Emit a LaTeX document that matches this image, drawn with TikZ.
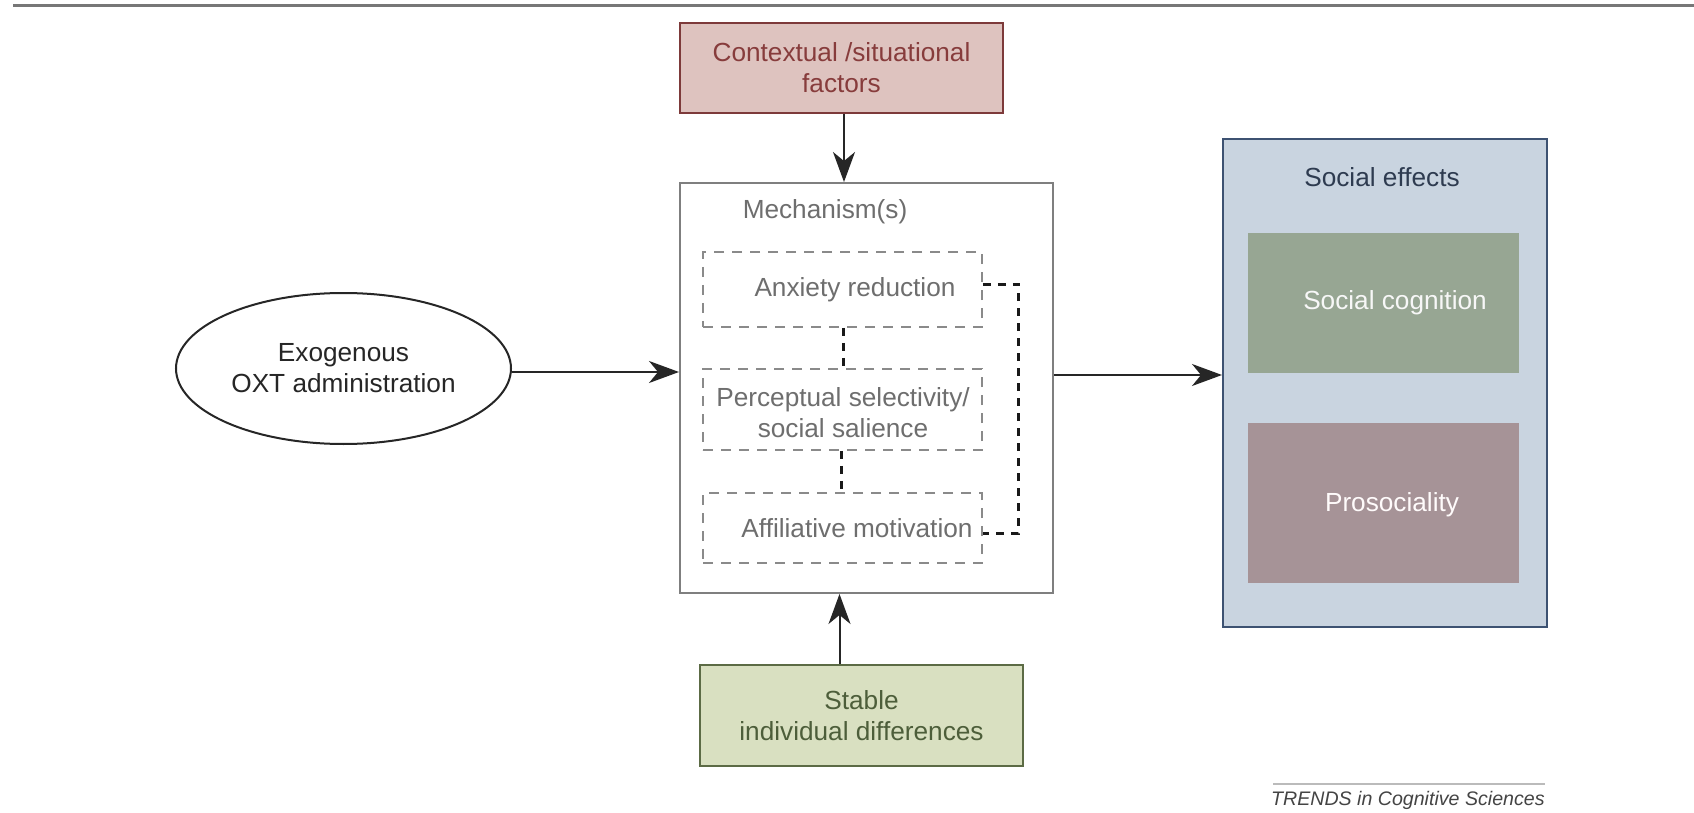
\documentclass[tikz,border=0pt]{standalone}
\usepackage{fontspec}
\setmainfont{Liberation Sans}
\usetikzlibrary{arrows.meta,shapes.geometric,calc}
\definecolor{ctxfill}{HTML}{DEC3BF}
\definecolor{ctxdraw}{HTML}{7D3A3A}
\definecolor{ctxtext}{HTML}{873C3C}
\definecolor{mechdraw}{HTML}{7F7F7F}
\definecolor{mechtext}{HTML}{6E6E6E}
\definecolor{dashdraw}{HTML}{8A8A8A}
\definecolor{socfill}{HTML}{C9D4E0}
\definecolor{socdraw}{HTML}{3D5272}
\definecolor{soctext}{HTML}{2E3B50}
\definecolor{cogfill}{HTML}{97A693}
\definecolor{prosfill}{HTML}{A69397}
\definecolor{stabfill}{HTML}{D9E0C1}
\definecolor{stabdraw}{HTML}{5C6B45}
\definecolor{stabtext}{HTML}{4D5E3A}
\definecolor{toprule}{HTML}{777777}
\definecolor{footrule}{HTML}{BBBBBB}
\definecolor{foottext}{HTML}{444444}
\begin{document}
\begin{tikzpicture}[x=0.5pt,y=-0.5pt,
  every node/.style={font=\fontsize{13.1}{15.5}\selectfont, inner sep=0pt, align=center},
  arr/.style={line width=1pt, draw=black!85, -{Stealth[length=15pt,width=11pt,inset=4.5pt]}},
  dbox/.style={draw=dashdraw, dash pattern=on 5pt off 4pt, line width=0.8pt, minimum width=139.5pt},
  conn/.style={line width=1.5pt, draw=black!90, dash pattern=on 4pt off 3.5pt},
  mtext/.style={text=mechtext},
  solid box/.style={rectangle, line width=1pt}
]
\fill[white] (0,0) rectangle (1694,813);
\useasboundingbox (0,0) rectangle (1694,813);

% top rule
\coordinate (tl) at (13,5.5);
\coordinate (tr) at (1694,5.5);
\draw[toprule, line width=1.1pt] (tl) -- (tr);

% contextual factors
\node[solid box, fill=ctxfill, draw=ctxdraw, text=ctxtext, minimum width=161.5pt, minimum height=45pt]
  (ctx) at (841.5,68) {Contextual /situational\\factors};

% mechanism box
\node[solid box, draw=mechdraw, fill=white, minimum width=186.5pt, minimum height=205pt]
  (mech) at (866.5,388) {};
\node[mtext] (mecht) at (825,212) {Mechanism(s)};

% dashed boxes
\node[dbox, minimum height=37.5pt] (anx) at (842.5,289.5) {};
\node[mtext] (anxt) at (855,290) {Anxiety reduction};
\node[dbox, minimum height=40.5pt] (per) at (842.5,409.5) {};
\node[mtext] (pert) at (843,412.5) {Perceptual selectivity/\\social salience};
\node[dbox, minimum height=35pt] (aff) at (842.5,528) {};
\node[mtext] (afft) at (857,528) {Affiliative motivation};

% dashed connectors
\draw[conn] ([xshift=0.25pt]anx.south) -- ([xshift=0.25pt]per.north);
\draw[conn] ([xshift=-0.75pt]per.south) -- ([xshift=-0.75pt]aff.north);
\draw[conn] ([yshift=2.75pt]anx.east) -- ++(36,0) |- ([yshift=-2.5pt]aff.east);

% social effects
\node[solid box, fill=socfill, draw=socdraw, minimum width=162pt, minimum height=244pt]
  (soc) at (1385,383) {};
\node[text=soctext] (soct) at (1382,177) {Social effects};
\node[rectangle, fill=cogfill, minimum width=135.5pt, minimum height=70pt] (cog) at (1383.5,303) {};
\node[text=white!94!gray] (cogt) at (1395,303) {Social cognition};
\node[rectangle, fill=prosfill, minimum width=135.5pt, minimum height=80pt] (pros) at (1383.5,503) {};
\node[text=white!94!pink] (prost) at (1392,505) {Prosociality};

% ellipse
\node[ellipse, draw=black!85, text=black!85, line width=1pt, fill=white, minimum width=167.5pt, minimum height=75.5pt]
  (oxt) at (343.5,368.5) {Exogenous\\OXT administration};

% stable individual differences
\node[solid box, fill=stabfill, draw=stabdraw, text=stabtext, minimum width=161.5pt, minimum height=50.5pt]
  (stab) at (861.5,715.5) {Stable\\individual differences};

% arrows
\draw[arr] ([xshift=1.25pt]ctx.south) -- ([xshift=1.25pt]ctx.south |- mech.north);
\draw[arr] ([xshift=-11pt]stab.north) -- ([xshift=-11pt]stab.north |- mech.south);
\draw[arr] ([yshift=-1.75pt]oxt.east) -- ([yshift=-1.75pt]oxt.east -| mech.west);
\draw[arr] ([yshift=6.5pt]mech.east) -- ([yshift=6.5pt]mech.east -| soc.west);

% footer
\coordinate (fl) at (1273,784);
\coordinate (fr) at (1545,784);
\draw[footrule, line width=1.2pt] (fl) -- (fr);
\node[anchor=east, text=foottext, font=\fontsize{9.8}{11}\selectfont\itshape] (foot) at (1545,800) {TRENDS in Cognitive Sciences};
\end{tikzpicture}
\end{document}
